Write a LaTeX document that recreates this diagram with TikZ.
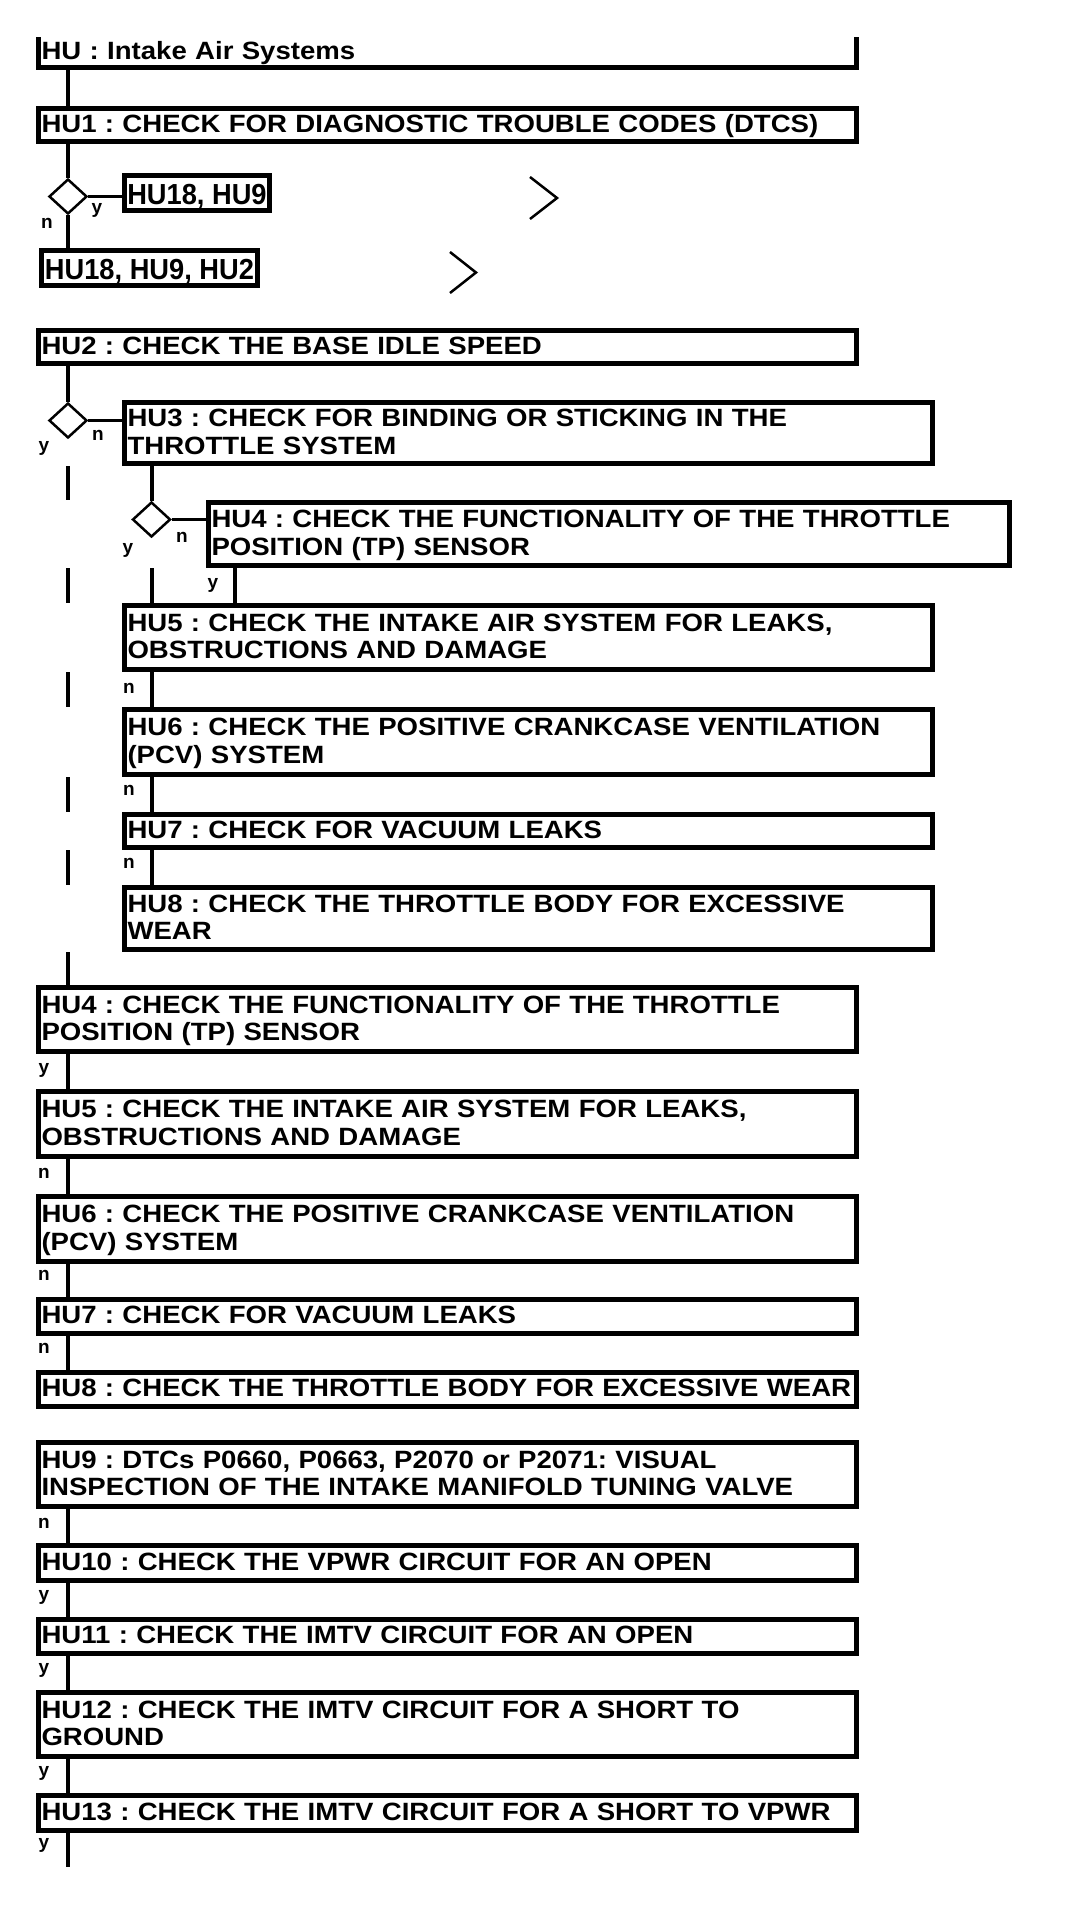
\documentclass[tikz,border=0pt]{standalone}
\usepackage{fontspec}
\newfontfamily\hubf{Liberation Sans}[FakeStretch=1.103]
\newfontfamily\hubr{Liberation Sans}[FakeStretch=0.94]
\newfontfamily\hubl{Liberation Sans}
\usetikzlibrary{shapes.geometric}
\frenchspacing
\newcommand{\hstrut}{\rule[-6.5pt]{0pt}{27.5pt}}
\newcommand{\boxfont}{\frenchspacing\hubf\bfseries\fontsize{25pt}{27.5pt}\selectfont}
\newcommand{\rfont}{\hubr\bfseries\fontsize{29pt}{32pt}\selectfont}
\newcommand{\labfont}{\hubl\bfseries\fontsize{19pt}{21pt}\selectfont}
\begin{document}
\begin{tikzpicture}[x=1pt,y=-1pt,
  box/.style={draw, line width=5pt, rectangle, anchor=north west, inner xsep=3pt, inner ysep=0pt, align=left, font=\boxfont},
  obox/.style={box, minimum width=818pt, text width=812pt},
  ibox/.style={box, minimum width=808pt, text width=802pt},
  jbox/.style={box, minimum width=801pt, text width=795pt},
  tbox/.style={rectangle, anchor=north west, outer sep=0pt, inner xsep=3pt, inner ysep=0pt, align=left, font=\boxfont, minimum width=818pt, text width=812pt},
  rbox/.style={draw, line width=5pt, rectangle, anchor=north west, inner xsep=1pt, inner ysep=0pt, font=\rfont, text height=22pt, text depth=0pt, minimum height=35pt},
  dia/.style={draw, diamond, line width=2.5pt, minimum width=38pt, minimum height=35pt, inner sep=0pt},
  vline/.style={line width=4pt},
  hline/.style={line width=2.7pt},
  chev/.style={line width=2.5pt},
  lab/.style={font=\labfont, inner sep=0pt}
]
\useasboundingbox (0,0) rectangle (1072,1930);
\fill[white] (0,0) rectangle (1072,1930);

% title
\node[tbox, minimum height=30.5pt] (hu) at (38.5,37) {\raisebox{-1.5pt}{\hstrut HU : Intake Air Systems}};
\draw[line width=5pt] (hu.north west) -- (hu.south west) -- (hu.south east) -- (hu.north east);

\node[obox, minimum height=33pt] (hu1) at (36,106) {\hstrut HU1 : CHECK FOR DIAGNOSTIC TROUBLE CODES (DTCS)};
\node[dia] (d1) at (68,196.5) {};
\node[rbox, minimum width=145pt] (r1) at (122,173) {HU18, HU9};
\node[rbox, minimum width=216pt] (r2) at (39,248) {HU18, HU9, HU2};

\draw[chev] (530,177) -- (557,198) -- (530,219);
\draw[chev] (450,252) -- (476,272.5) -- (450,293);

\node[obox, minimum height=33pt] (hu2) at (36,328) {\hstrut HU2 : CHECK THE BASE IDLE SPEED};
\node[dia] (d2) at (68,420.5) {};
\node[ibox, minimum height=61pt] (hu3i) at (122,400) {\hstrut HU3 : CHECK FOR BINDING OR STICKING IN THE\\\hstrut THROTTLE SYSTEM};
\node[dia] (d3) at (151.5,519.5) {};
\node[jbox, minimum height=63pt] (hu4i) at (206,500) {\hstrut HU4 : CHECK THE FUNCTIONALITY OF THE THROTTLE\\\hstrut POSITION (TP) SENSOR};
\node[ibox, minimum height=64pt] (hu5i) at (122,603) {\hstrut HU5 : CHECK THE INTAKE AIR SYSTEM FOR LEAKS,\\\hstrut OBSTRUCTIONS AND DAMAGE};
\node[ibox, minimum height=65pt] (hu6i) at (122,707) {\hstrut HU6 : CHECK THE POSITIVE CRANKCASE VENTILATION\\\hstrut (PCV) SYSTEM};
\node[ibox, minimum height=33pt] (hu7i) at (122,812) {\hstrut HU7 : CHECK FOR VACUUM LEAKS};
\node[ibox, minimum height=62pt] (hu8i) at (122,885) {\hstrut HU8 : CHECK THE THROTTLE BODY FOR EXCESSIVE\\\hstrut WEAR};

\node[obox, minimum height=64pt] (hu4o) at (36,985) {\hstrut HU4 : CHECK THE FUNCTIONALITY OF THE THROTTLE\\\hstrut POSITION (TP) SENSOR};
\node[obox, minimum height=65pt] (hu5o) at (36,1089) {\hstrut HU5 : CHECK THE INTAKE AIR SYSTEM FOR LEAKS,\\\hstrut OBSTRUCTIONS AND DAMAGE};
\node[obox, minimum height=65pt] (hu6o) at (36,1194) {\hstrut HU6 : CHECK THE POSITIVE CRANKCASE VENTILATION\\\hstrut (PCV) SYSTEM};
\node[obox, minimum height=34pt] (hu7o) at (36,1297) {\hstrut HU7 : CHECK FOR VACUUM LEAKS};
\node[obox, minimum height=34pt] (hu8o) at (36,1370) {\hstrut HU8 : CHECK THE THROTTLE BODY FOR EXCESSIVE WEAR};
\node[obox, minimum height=64pt] (hu9) at (36,1440) {\hstrut HU9 : DTCs P0660, P0663, P2070 or P2071: VISUAL\\\hstrut INSPECTION OF THE INTAKE MANIFOLD TUNING VALVE};
\node[obox, minimum height=35pt] (hu10) at (36,1543) {\hstrut HU10 : CHECK THE VPWR CIRCUIT FOR AN OPEN};
\node[obox, minimum height=34pt] (hu11) at (36,1617) {\hstrut HU11 : CHECK THE IMTV CIRCUIT FOR AN OPEN};
\node[obox, minimum height=64pt] (hu12) at (36,1690) {\hstrut HU12 : CHECK THE IMTV CIRCUIT FOR A SHORT TO\\\hstrut GROUND};
\node[obox, minimum height=35pt] (hu13) at (36,1793) {\hstrut HU13 : CHECK THE IMTV CIRCUIT FOR A SHORT TO VPWR};
\coordinate (endpt) at (68,1867);
\coordinate (ycol) at (235,585);

% connectors
\draw[vline] (hu.south -| d1) -- (hu1.north -| d1);
\draw[vline] (hu1.south -| d1) -- (d1.north);
\draw[hline] (d1.east) -- (d1.east -| r1.west);
\draw[vline] (d1.south) -- (r2.north -| d1);
\draw[vline] (hu2.south -| d2) -- (d2.north);
\draw[hline] (d2.east) -- (d2.east -| hu3i.west);
\foreach \a/\b in {hu3i/hu4i, hu4i/hu5i, hu5i/hu6i, hu6i/hu7i, hu7i/hu8i, hu8i/hu4o}
  \draw[vline] (\a.south -| d2) -- (\b.north -| d2);
\draw[vline] (hu3i.south -| d3) -- (d3.north);
\draw[hline] (d3.east) -- (d3.east -| hu4i.west);
\draw[vline] (hu4i.south -| d3) -- (hu5i.north -| d3);
\draw[vline] (hu4i.south -| ycol) -- (hu5i.north -| ycol);
\foreach \a/\b in {hu5i/hu6i, hu6i/hu7i, hu7i/hu8i}
  \draw[vline] (\a.south -| d3) -- (\b.north -| d3);
\foreach \a/\b in {hu4o/hu5o, hu5o/hu6o, hu6o/hu7o, hu7o/hu8o, hu9/hu10, hu10/hu11, hu11/hu12, hu12/hu13}
  \draw[vline] (\a.south -| d1) -- (\b.north -| d1);
\draw[vline] (hu13.south -| d1) -- (endpt);

% labels
\node[lab] (ly1) at (97,210) {y};
\node[lab] (ln1) at (47,223) {n};
\node[lab] (ln2) at (98,435) {n};
\node[lab] (ly2) at (44,448) {y};
\node[lab] (ln3) at (182,537) {n};
\node[lab] (ly3) at (128,550) {y};
\node[lab] (ly4i) at (213,585) {y};
\node[lab] (ln5i) at (129,688) {n};
\node[lab] (ln6i) at (129,790) {n};
\node[lab] (ln7i) at (129,863) {n};
\node[lab] (ly4o) at (44,1070) {y};
\node[lab] (ln5o) at (44,1173) {n};
\node[lab] (ln6o) at (44,1275) {n};
\node[lab] (ln7o) at (44,1348) {n};
\node[lab] (ln9) at (44,1523) {n};
\node[lab] (ly10) at (44,1597) {y};
\node[lab] (ly11) at (44,1670) {y};
\node[lab] (ly12) at (44,1773) {y};
\node[lab] (ly13) at (44,1845) {y};
\end{tikzpicture}
\end{document}
